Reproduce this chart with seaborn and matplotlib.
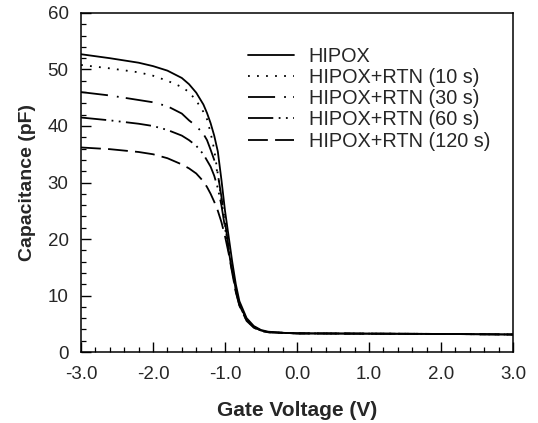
import matplotlib
matplotlib.use("Agg")
import matplotlib.pyplot as plt
from matplotlib.ticker import MultipleLocator, FormatStrFormatter
import seaborn as sns
import pandas as pd

# Gate voltage grid (V)
voltage = [-3.0, -2.6, -2.2, -2.0, -1.8, -1.6, -1.5, -1.4, -1.3, -1.25, -1.2,
           -1.15, -1.1, -1.05, -1.0, -0.95, -0.9, -0.85, -0.8, -0.7, -0.6,
           -0.5, -0.4, -0.2, 0.0, 1.0, 2.0, 3.0]

series_names = ["HIPOX", "HIPOX+RTN (10 s)", "HIPOX+RTN (30 s)",
                "HIPOX+RTN (60 s)", "HIPOX+RTN (120 s)"]

cap_hipox = [52.7, 52.0, 51.2, 50.6, 49.8, 48.5, 47.4, 45.9, 43.8, 42.3, 40.5,
             38.3, 35.5, 30.5, 25.0, 20.5, 16.0, 12.0, 9.0, 6.0, 4.6,
             3.9, 3.6, 3.4, 3.3, 3.25, 3.2, 3.1]
cap_10s = [50.8, 50.2, 49.5, 48.9, 48.0, 46.9, 46.0, 44.5, 42.5, 41.2, 38.8,
           35.8, 31.5, 27.0, 22.5, 18.5, 14.5, 11.2, 8.6, 5.8, 4.5,
           3.8, 3.55, 3.4, 3.3, 3.25, 3.2, 3.1]
cap_30s = [46.0, 45.4, 44.6, 44.2, 43.5, 42.2, 41.0, 40.0, 38.6, 37.5, 35.8,
           34.0, 31.5, 27.5, 23.0, 18.5, 14.5, 11.0, 8.5, 5.7, 4.4,
           3.8, 3.5, 3.4, 3.3, 3.25, 3.2, 3.1]
cap_60s = [41.5, 41.0, 40.4, 40.0, 39.3, 38.3, 37.5, 36.5, 35.0, 33.9, 32.8,
           31.2, 29.0, 26.0, 22.0, 18.0, 14.2, 10.8, 8.3, 5.6, 4.4,
           3.8, 3.5, 3.4, 3.3, 3.25, 3.2, 3.1]
cap_120s = [36.2, 35.9, 35.4, 35.0, 34.3, 33.2, 32.5, 31.6, 30.2, 29.2, 28.0,
            26.6, 25.0, 23.0, 20.5, 17.5, 14.0, 10.6, 8.2, 5.5, 4.3,
            3.7, 3.5, 3.4, 3.3, 3.25, 3.2, 3.1]

x_ticks = [-3.0, -2.0, -1.0, 0.0, 1.0, 2.0, 3.0]
y_ticks = [0, 10, 20, 30, 40, 50, 60]

caps = [cap_hipox, cap_10s, cap_30s, cap_60s, cap_120s]
styles = ["-", (0, (1, 4)), (0, (15, 5, 1, 4)), (0, (14, 3, 1, 3, 1, 3)),
          (0, (11, 4))]

sns.set_style("white")
plt.rcParams["font.family"] = ["Liberation Sans", "DejaVu Sans"]

fig = plt.figure(figsize=(5.38, 4.23), dpi=100)
ax = fig.add_axes([0.1506, 0.1678, 0.8029, 0.8015])

for name, c, ls in zip(series_names, caps, styles):
    df = pd.DataFrame({"V": voltage, "C": c})
    sns.lineplot(data=df, x="V", y="C", ax=ax, color="black", linewidth=1.3,
                 linestyle=ls, label=name, sort=False, estimator=None)

ax.set_xlim(-3.0, 3.0)
ax.set_ylim(0, 60)
ax.set_xticks(x_ticks)
ax.set_yticks(y_ticks)
ax.xaxis.set_major_formatter(FormatStrFormatter("%.1f"))
ax.xaxis.set_minor_locator(MultipleLocator(0.2))
ax.yaxis.set_minor_locator(MultipleLocator(2))
ax.tick_params(axis="both", which="major", direction="in", length=7,
               width=1.0, color="black", labelsize=13.5,
               bottom=True, left=True, top=False, right=False)
ax.tick_params(axis="x", which="major", pad=10)
ax.tick_params(axis="y", which="major", pad=9)
ax.tick_params(axis="both", which="minor", direction="in", length=3.5,
               width=0.9, color="black", bottom=True, left=True,
               top=False, right=False)
for s in ax.spines.values():
    s.set_visible(True)
    s.set_color("black")
    s.set_linewidth(1.1)

ax.set_xlabel("Gate Voltage (V)", fontsize=15, fontweight="bold", labelpad=13)
ax.set_ylabel("Capacitance (pF)", fontsize=14, fontweight="bold", labelpad=8)

ax.legend(loc="upper left", bbox_to_anchor=(0.387, 0.90), frameon=False,
          fontsize=14.3, handlelength=2.3, handletextpad=0.75,
          labelspacing=0.11, borderpad=0.0, borderaxespad=0.0)

fig.savefig("out.png", dpi=100)
